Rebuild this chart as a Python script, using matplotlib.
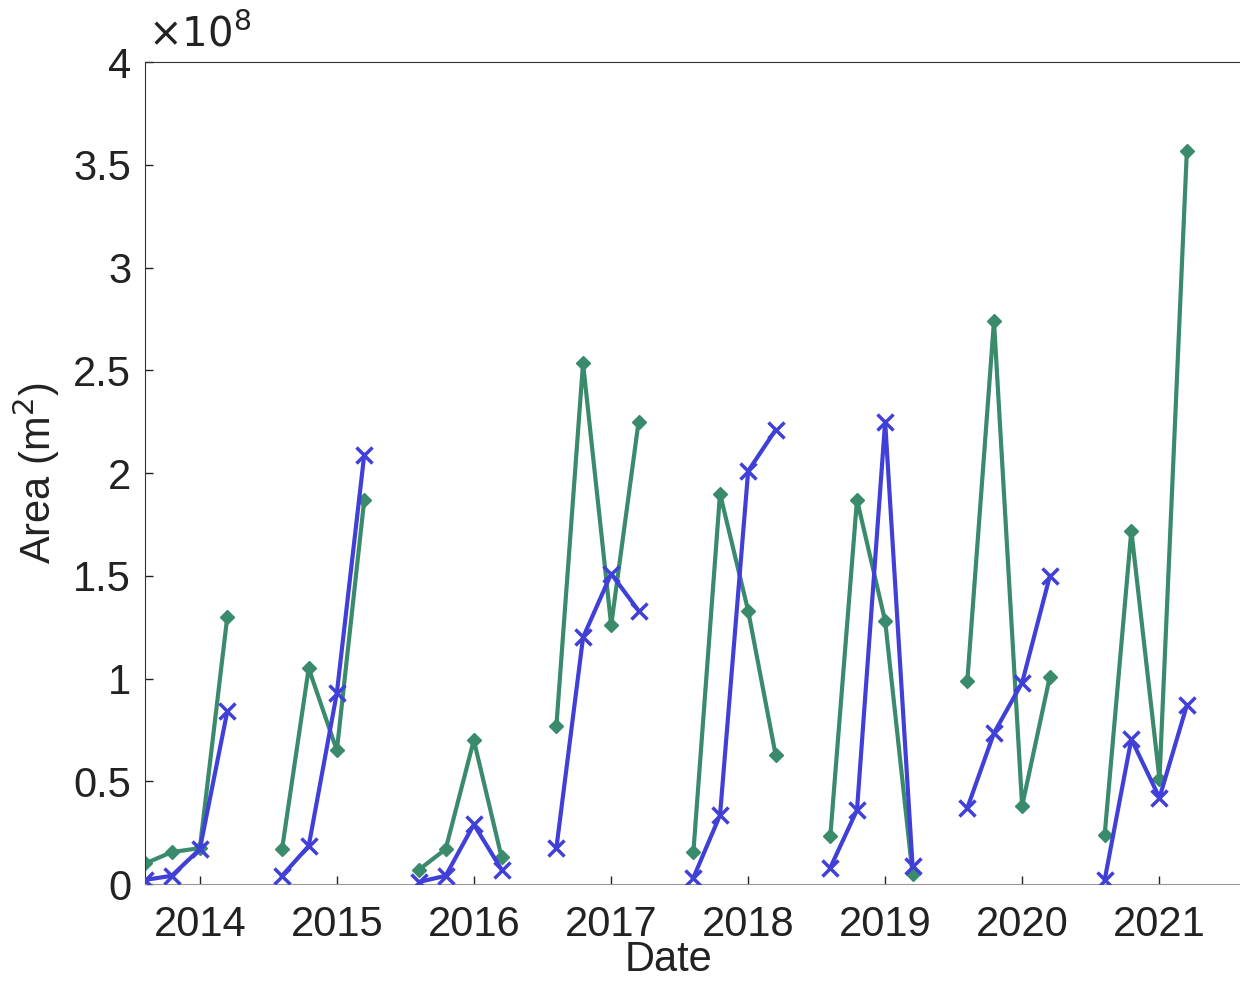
import datetime as dt

import matplotlib

matplotlib.use("Agg")
import matplotlib.dates as mdates
import matplotlib.pyplot as plt
from matplotlib.ticker import FuncFormatter

_G = "#3a8a6c"
_B = "#4040d8"

# one season per year: Aug, Oct, Jan, Mar
seasons = [2014, 2015, 2016, 2017, 2018, 2019, 2020, 2021]
green = [  # area, units of 1e8 m^2
    [0.10, 0.155, 0.175, 1.30],
    [0.17, 1.05, 0.65, 1.87],
    [0.07, 0.17, 0.70, 0.13],
    [0.77, 2.535, 1.26, 2.25],
    [0.155, 1.90, 1.33, 0.63],
    [0.235, 1.87, 1.28, 0.05],
    [0.99, 2.74, 0.38, 1.01],
    [0.24, 1.72, 0.51, 3.57],
]
blue = [
    [0.02, 0.04, 0.17, 0.84],
    [0.04, 0.185, 0.93, 2.09],
    [0.01, 0.04, 0.29, 0.07],
    [0.175, 1.20, 1.51, 1.33],
    [0.03, 0.335, 2.01, 2.21],
    [0.08, 0.36, 2.25, 0.09],
    [0.37, 0.735, 0.98, 1.50],
    [0.02, 0.705, 0.42, 0.87],
]


def season_dates(y):
    return [dt.date(y - 1, 8, 8), dt.date(y - 1, 10, 18),
            dt.date(y, 1, 1), dt.date(y, 3, 15)]


plt.rcParams["font.family"] = ["Liberation Sans", "DejaVu Sans"]

fig = plt.figure(figsize=(12.4, 9.83), dpi=100)
ax = fig.add_axes([0.117, 0.1007, 0.891, 0.836])

for y, g, b in zip(seasons, green, blue):
    d = season_dates(y)
    ax.plot(d, [v * 1e8 for v in g], color=_G, lw=3, marker="D", ms=7.5,
            mec=_G, mfc=_G, zorder=2)
    ax.plot(d, [v * 1e8 for v in b], color=_B, lw=3, marker="x", ms=11,
            mew=2.5, zorder=3)

ax.set_xlim(dt.date(2013, 8, 8), dt.date(2021, 8, 30))
ax.set_ylim(0, 4e8)
ax.set_xticks([dt.date(y, 1, 1) for y in seasons])
ax.xaxis.set_major_formatter(mdates.DateFormatter("%Y"))
ax.set_yticks([i * 0.5e8 for i in range(9)])
ax.yaxis.set_major_formatter(FuncFormatter(lambda v, p: f"{v / 1e8:g}"))

ax.tick_params(direction="in", length=6, width=1, labelsize=30, colors="#222222")
ax.tick_params(axis="x", pad=15)
ax.tick_params(axis="y", pad=10)
for s in ("left", "top"):
    ax.spines[s].set_color("#333333")
ax.spines["bottom"].set_color("#999999")
ax.spines["right"].set_visible(False)

ax.set_xlabel("Date", fontsize=30, color="#222222")
ax.xaxis.set_label_coords(0.474, -0.068)
ax.set_ylabel("Area (m$^2$)", fontsize=30, color="#222222", labelpad=8)
fig.text(0.119, 0.945, r"$\times10^{8}$", fontsize=29, color="#222222",
         ha="left", va="bottom", math_fontfamily="dejavusans")

fig.savefig("out.png", dpi=100, facecolor="white")
